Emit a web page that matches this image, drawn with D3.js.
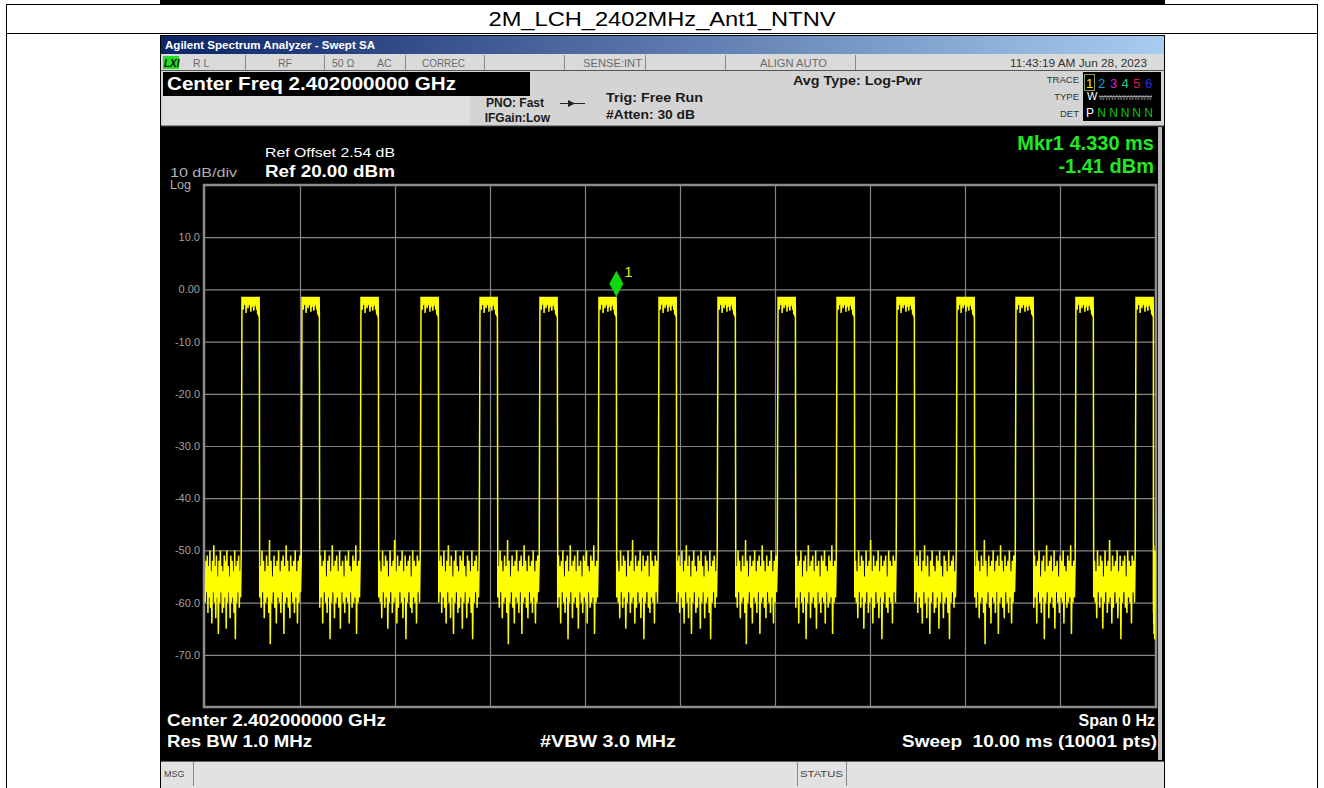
<!DOCTYPE html>
<html>
<head>
<meta charset="utf-8">
<script src="https://cdn.jsdelivr.net/npm/d3@7"></script>
<style>
  body { margin: 0; background: #fff; }
  text { font-family: "Liberation Sans", Arial, sans-serif; }
</style>
</head>
<body>
<div id="chart"></div>
<script>
// ---- dados ----
const titleText = "2M_LCH_2402MHz_Ant1_NTNV";

// eixo y (dBm) e grade de tempo (ms)
const yTicks = [10, 0, -10, -20, -30, -40, -50, -60, -70];
const yTickLabels = ["10.0", "0.00", "-10.0", "-20.0", "-30.0", "-40.0", "-50.0", "-60.0", "-70.0"];
const xGridMs = [1, 2, 3, 4, 5, 6, 7, 8, 9];

// inicio de cada rajada (ms) e largura
const pulseStartMs = [0.389, 1.021, 1.642, 2.274, 2.895, 3.526, 4.147, 4.779,
                      5.400, 6.032, 6.653, 7.284, 7.916, 8.537, 9.168, 9.800];
const pulseWidthMs = 0.183;
const pulseTopDbm = -1.41;
const pulseTopLow = [-2.8, -3.9, -3.0, -2.6, -4.5, -3.0, -3.6, -3.1, -2.7,
                     -4.3, -3.4, -2.9, -4.1, -3.2, -2.8, -3.9, -4.8, -5.2];

// ruido entre rajadas (picos altos / baixos, dBm)
const noiseHiA = [-52,-51,-53,-50,-54,-52,-49,-53,-51,-55,-52,-50,-53,-54,-51,-52,-50,-53,-55,-51,-52,-54,-50,-53,-52,-51,-54,-50];
const noiseLoA = [-60,-58,-62,-59,-61,-64,-58,-60,-63,-59,-66,-60,-58,-62,-61,-59,-65,-60,-58,-63,-60,-59,-62,-67,-60,-58,-61,-59];
const noiseHiB = [-53,-50,-52,-54,-51,-53,-48,-52,-55,-51,-53,-52,-50,-54,-52,-51,-53,-49,-52,-54,-51,-53,-52,-50,-54,-52,-51,-52];
const noiseLoB = [-59,-61,-58,-63,-60,-59,-62,-68,-60,-58,-61,-64,-59,-60,-62,-58,-66,-60,-59,-61,-63,-58,-60,-62,-59,-64,-60,-58];
const noiseHiC = [-51,-53,-52,-50,-55,-52,-51,-54,-49,-53,-52,-51,-54,-50,-53,-52,-55,-51,-52,-50,-53,-54,-51,-52,-49,-53,-52,-51];
const noiseLoC = [-61,-59,-64,-58,-60,-62,-59,-67,-60,-58,-63,-60,-59,-61,-65,-58,-60,-62,-59,-60,-64,-58,-61,-60,-59,-66,-60,-59];
const noiseHiD = [-52,-54,-50,-53,-51,-52,-55,-50,-53,-52,-48,-54,-51,-53,-52,-50,-54,-51,-53,-52,-51,-55,-50,-52,-53,-51,-52,-50];
const noiseLoD = [-59,-60,-63,-58,-61,-59,-65,-60,-58,-62,-60,-59,-64,-61,-58,-60,-63,-59,-67,-60,-58,-61,-62,-59,-60,-64,-58,-60];

// marcador
const markerMs = 4.330;
const markerDbm = -1.41;

// ---- svg ----
const W = 1324, H = 788;
const svg = d3.select("#chart").append("svg")
  .attr("width", W).attr("height", H);

function txt(x, y, s, o = {}) {
  const t = svg.append("text")
    .attr("x", x).attr("y", y)
    .attr("fill", o.fill || "#000")
    .attr("font-size", o.size || 12)
    .attr("font-weight", o.bold ? "bold" : "normal")
    .attr("text-anchor", o.anchor || "start")
    .text(s);
  if (o.len) t.attr("textLength", o.len).attr("lengthAdjust", "spacingAndGlyphs");
  return t;
}

// tabela em volta
svg.append("rect").attr("x", 160).attr("y", 0).attr("width", 1005).attr("height", 4).attr("fill", "#000");
svg.append("line").attr("x1", 6).attr("x2", 1318).attr("y1", 4.5).attr("y2", 4.5).attr("stroke", "#000");
svg.append("line").attr("x1", 6).attr("x2", 1318).attr("y1", 33.5).attr("y2", 33.5).attr("stroke", "#000");
svg.append("line").attr("x1", 6.5).attr("x2", 6.5).attr("y1", 4).attr("y2", H).attr("stroke", "#000");
svg.append("line").attr("x1", 1317.5).attr("x2", 1317.5).attr("y1", 4).attr("y2", H).attr("stroke", "#000");
txt(662, 26, titleText, {size: 20, anchor: "middle", len: 347});

// tela do analisador
svg.append("rect").attr("x", 160).attr("y", 35).attr("width", 1005).attr("height", 753).attr("fill", "#000");

const grad = svg.append("defs").append("linearGradient").attr("id", "tbar");
grad.append("stop").attr("offset", "0%").attr("stop-color", "#0c2468");
grad.append("stop").attr("offset", "100%").attr("stop-color", "#a8ccf0");
svg.append("rect").attr("x", 161).attr("y", 36).attr("width", 1003).attr("height", 18).attr("fill", "url(#tbar)");
txt(165, 49, "Agilent Spectrum Analyzer - Swept SA", {fill: "#fff", size: 11, bold: true, len: 210});

// linha de status
svg.append("rect").attr("x", 161).attr("y", 54).attr("width", 1003).attr("height", 17).attr("fill", "#dadada");
svg.append("rect").attr("x", 163).attr("y", 56).attr("width", 16).attr("height", 13).attr("fill", "#22dd22");
txt(164, 67, "LXI", {size: 10, bold: true, fill: "#111"}).attr("font-style", "italic");
[245, 324, 405, 484, 564, 645, 725, 855].forEach(sx => {
  svg.append("line").attr("x1", sx + 0.5).attr("x2", sx + 0.5).attr("y1", 55).attr("y2", 70).attr("stroke", "#8a8a8a");
});
const stat = {fill: "#6a6a6a", size: 10.5};
txt(193, 67, "R L", stat);
txt(278, 67, "RF", stat);
txt(332, 67, "50 Ω", stat);
txt(377, 67, "AC", stat);
txt(422, 67, "CORREC", {...stat, len: 43});
txt(583, 67, "SENSE:INT", {...stat, len: 59});
txt(760, 67, "ALIGN AUTO", {...stat, len: 67});
txt(1010, 67, "11:43:19 AM Jun 28, 2023", {...stat, fill: "#333", len: 137});
svg.append("line").attr("x1", 161).attr("x2", 1164).attr("y1", 70.5).attr("y2", 70.5).attr("stroke", "#555");

// cabecalho
svg.append("rect").attr("x", 161).attr("y", 71).attr("width", 1003).attr("height", 55).attr("fill", "#d4d4d4");
svg.append("rect").attr("x", 163).attr("y", 96).attr("width", 307).attr("height", 29).attr("fill", "#dedede");
svg.append("rect").attr("x", 163).attr("y", 72).attr("width", 367).attr("height", 24).attr("fill", "#000");
txt(167, 90, "Center Freq 2.402000000 GHz", {fill: "#fff", size: 19, bold: true, len: 289});
txt(544, 107, "PNO: Fast", {size: 12, bold: true, anchor: "end", fill: "#1a1a1a"});
txt(550, 122, "IFGain:Low", {size: 12, bold: true, anchor: "end", fill: "#1a1a1a"});
svg.append("line").attr("x1", 560).attr("x2", 585).attr("y1", 103.5).attr("y2", 103.5).attr("stroke", "#222");
svg.append("path").attr("d", "M568,100 L575,103.5 L568,107 Z").attr("fill", "#222");
txt(606, 102, "Trig: Free Run", {size: 13, bold: true, fill: "#1a1a1a", len: 97});
txt(606, 119, "#Atten: 30 dB", {size: 13, bold: true, fill: "#1a1a1a", len: 89});
txt(793, 85, "Avg Type: Log-Pwr", {size: 13, bold: true, fill: "#1a1a1a", len: 129});

// quadro de traços
txt(1079, 83, "TRACE", {size: 9.5, anchor: "end", fill: "#333"});
txt(1079, 100, "TYPE", {size: 9.5, anchor: "end", fill: "#333"});
txt(1079, 117, "DET", {size: 9.5, anchor: "end", fill: "#333"});
svg.append("rect").attr("x", 1083).attr("y", 72).attr("width", 78).attr("height", 49).attr("fill", "#000");
svg.append("rect").attr("x", 1084.5).attr("y", 74.5).attr("width", 10).attr("height", 16).attr("fill", "none").attr("stroke", "#8aa060");
const traceNums = ["1", "2", "3", "4", "5", "6"];
const traceCols = ["#f0f000", "#00a8d0", "#d020d0", "#20c890", "#e01848", "#2828e8"];
const traceNumX = [1089.5, 1101.5, 1113.5, 1125, 1136.5, 1148.5];
traceNums.forEach((n, i) => txt(traceNumX[i], 88, n, {size: 13, fill: traceCols[i], anchor: "middle"}));
txt(1087, 100, "W", {size: 11, fill: "#fff"});
txt(1099, 100, "WWWWWWWWW", {size: 8, fill: "#9a9a9a", len: 53});
svg.append("line").attr("x1", 1099).attr("x2", 1152).attr("y1", 96.5).attr("y2", 96.5).attr("stroke", "#9a9a9a");
txt(1086, 117, "P", {size: 12, fill: "#fff"});
traceNumX.slice(1).forEach(nx => txt(nx, 117, "N", {size: 12, fill: "#10c010", anchor: "middle"}));
svg.append("line").attr("x1", 161).attr("x2", 1164).attr("y1", 126).attr("y2", 126).attr("stroke", "#444");

// ---- grafico ----
const x = d3.scaleLinear().domain([0, 10]).range([205, 1155]);
const y = d3.scaleLinear().domain([-80, 20]).range([707, 185]);

const grid = svg.append("g");
grid.append("g")
  .attr("transform", `translate(0,${y(-80)})`)
  .call(d3.axisBottom(x).tickValues(xGridMs).tickSize(y(20) - y(-80)).tickFormat(""))
  .call(g => g.select(".domain").remove())
  .selectAll("line").attr("stroke", "#858585").attr("stroke-width", 1.2);
grid.append("g")
  .attr("transform", `translate(${x(0)},0)`)
  .call(d3.axisRight(y).tickValues(yTicks.concat([-80 + 0.0001])).tickSize(x(10) - x(0)).tickFormat(""))
  .call(g => g.select(".domain").remove())
  .selectAll("line").attr("stroke", "#858585").attr("stroke-width", 1.2);
svg.append("rect").attr("x", x(0) - 1).attr("y", y(20)).attr("width", x(10) - x(0) + 2).attr("height", y(-80) - y(20))
  .attr("fill", "none").attr("stroke", "#8c8c8c").attr("stroke-width", 2.5);
svg.append("rect").attr("x", 1158).attr("y", 127).attr("width", 4).attr("height", 633).attr("fill", "#b8b8b8");

svg.append("g")
  .attr("transform", `translate(${x(0)},0)`)
  .call(d3.axisLeft(y).tickValues(yTicks).tickSize(0).tickPadding(5)
    .tickFormat((d, i) => yTickLabels[i]))
  .call(g => g.select(".domain").remove())
  .selectAll("text").attr("fill", "#a0a0a0").attr("font-size", 11)
  .attr("font-family", "'Liberation Sans', Arial, sans-serif");

// traço
const noiseHiSets = [noiseHiA, noiseHiB, noiseHiC, noiseHiD];
const noiseLoSets = [noiseLoA, noiseLoB, noiseLoC, noiseLoD];

function pushNoise(pts, t0, t1, k) {
  const hi = noiseHiSets[k % 4], lo = noiseLoSets[k % 4];
  const n = hi.length * 2;
  const step = (t1 - t0) / n;
  hi.forEach((h, i) => {
    pts.push({t: t0 + (2 * i + 0.5) * step, v: lo[i]});
    pts.push({t: t0 + (2 * i + 1.5) * step, v: h});
  });
}

const trace = [];
pushNoise(trace, 0, pulseStartMs[0] - 0.004, 0);
pulseStartMs.forEach((s, i) => {
  const e = s + pulseWidthMs;
  trace.push({t: s, v: pulseTopDbm});
  const st = pulseWidthMs / pulseTopLow.length;
  pulseTopLow.forEach((lv, j) => {
    trace.push({t: s + (j + 0.25) * st, v: lv});
    trace.push({t: s + (j + 0.75) * st, v: pulseTopDbm});
  });
  trace.push({t: e, v: pulseTopLow[pulseTopLow.length - 1]});
  const next = i < pulseStartMs.length - 1 ? pulseStartMs[i + 1] - 0.004 : 10;
  pushNoise(trace, e, next, i + 1);
});

svg.append("path")
  .datum(trace)
  .attr("d", d3.line().x(d => x(d.t)).y(d => y(d.v)))
  .attr("fill", "none")
  .attr("stroke", "#ffff00")
  .attr("stroke-width", 1.5)
  .attr("stroke-linejoin", "bevel");

// marcador
const mx = x(markerMs), my = y(markerDbm);
svg.append("path")
  .attr("d", `M${mx},${my - 26} L${mx + 7},${my - 13} L${mx},${my} L${mx - 7},${my - 13} Z`)
  .attr("fill", "#10d810");
txt(mx + 8, my - 20, "1", {size: 15, fill: "#e8e800"});

// textos da tela
txt(265, 157, "Ref Offset 2.54 dB", {fill: "#fff", size: 13, len: 130});
txt(265, 177, "Ref 20.00 dBm", {fill: "#fff", size: 16, bold: true, len: 130});
txt(170, 177, "10 dB/div", {fill: "#b0b0b0", size: 12.5, len: 67});
txt(170, 189, "Log", {fill: "#b0b0b0", size: 12.5});
txt(1154, 150, "Mkr1 4.330 ms", {fill: "#22e822", size: 20, bold: true, anchor: "end"});
txt(1154, 173, "-1.41 dBm", {fill: "#22e822", size: 20, bold: true, anchor: "end"});

txt(167, 726, "Center 2.402000000 GHz", {fill: "#fff", size: 16, bold: true, len: 219});
txt(167, 747, "Res BW 1.0 MHz", {fill: "#fff", size: 16, bold: true, len: 145});
txt(540, 747, "#VBW 3.0 MHz", {fill: "#fff", size: 16, bold: true, len: 136});
txt(1155, 726, "Span 0 Hz", {fill: "#fff", size: 16, bold: true, anchor: "end"});
txt(902, 747, "Sweep  10.00 ms (10001 pts)", {fill: "#fff", size: 16, bold: true, len: 255}).attr("xml:space", "preserve");

// barra de mensagens
svg.append("rect").attr("x", 161).attr("y", 761).attr("width", 1003).attr("height", 27).attr("fill", "#e2e2e2");
svg.append("line").attr("x1", 161).attr("x2", 1164).attr("y1", 761.5).attr("y2", 761.5).attr("stroke", "#666");
[193, 797, 846].forEach(sx => {
  svg.append("line").attr("x1", sx + 0.5).attr("x2", sx + 0.5).attr("y1", 762).attr("y2", 786).attr("stroke", "#888");
});
txt(164, 777, "MSG", {size: 9, fill: "#444"});
txt(800, 777, "STATUS", {size: 9, fill: "#444", len: 43});
</script>
</body>
</html>
